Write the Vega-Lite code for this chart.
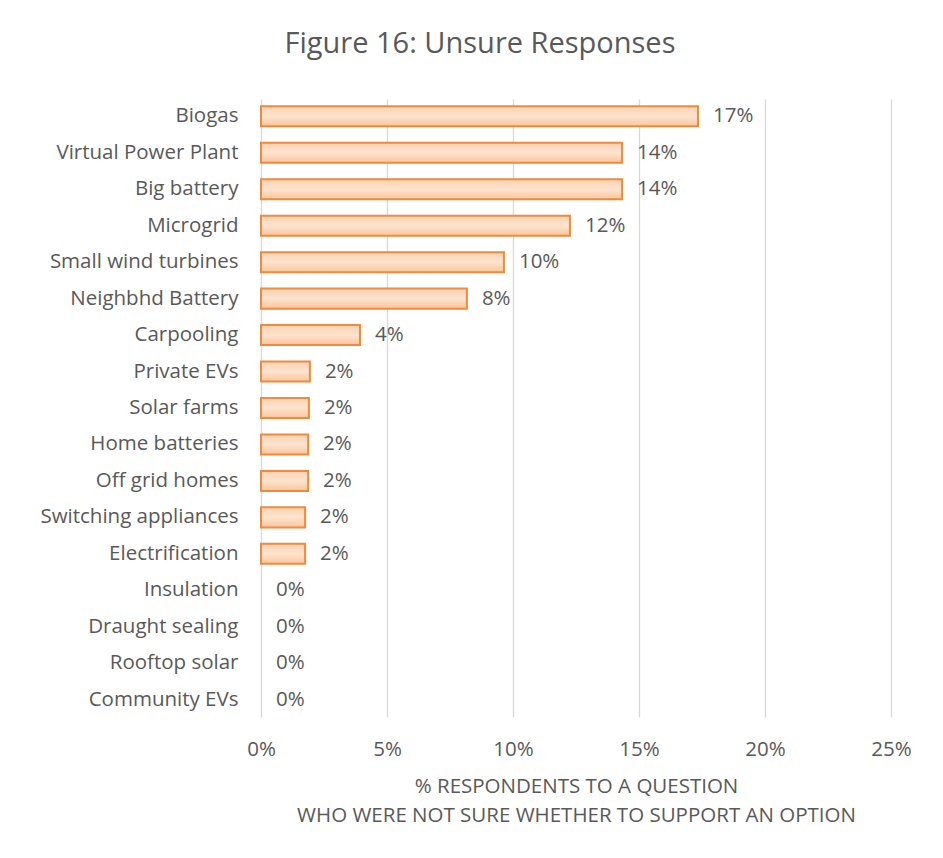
{
  "$schema": "https://vega.github.io/schema/vega-lite/v6.json",
  "width": 630,
  "height": 618,
  "autosize": "none",
  "padding": {"left": 261, "top": 99, "right": 52, "bottom": 141},
  "background": "white",
  "title": {
    "text": "Figure 16: Unsure Responses",
    "anchor": "middle",
    "dx": -96,
    "offset": 40,
    "font": "Open Sans",
    "fontSize": 29,
    "fontWeight": "normal",
    "color": "#595959"
  },
  "data": {
    "values": [
      {"option": "Biogas", "share": 0.1734},
      {"option": "Virtual Power Plant", "share": 0.1433},
      {"option": "Big battery", "share": 0.1433},
      {"option": "Microgrid", "share": 0.1226},
      {"option": "Small wind turbines", "share": 0.0964},
      {"option": "Neighbhd Battery", "share": 0.0817},
      {"option": "Carpooling", "share": 0.0393},
      {"option": "Private EVs", "share": 0.0194},
      {"option": "Solar farms", "share": 0.019},
      {"option": "Home batteries", "share": 0.0187},
      {"option": "Off grid homes", "share": 0.0187},
      {"option": "Switching appliances", "share": 0.0175},
      {"option": "Electrification", "share": 0.0175},
      {"option": "Insulation", "share": 0},
      {"option": "Draught sealing", "share": 0},
      {"option": "Rooftop solar", "share": 0},
      {"option": "Community EVs", "share": 0}
    ]
  },
  "encoding": {
    "y": {
      "field": "option",
      "type": "nominal",
      "sort": null,
      "scale": {"paddingInner": 0.45, "paddingOuter": 0.2},
      "axis": {
        "title": null,
        "domain": false,
        "ticks": false,
        "grid": false,
        "labelPadding": 23,
        "labelLimit": 300,
        "labelFont": "Open Sans",
        "labelFontSize": 20.5,
        "labelColor": "#595959"
      }
    },
    "x": {
      "field": "share",
      "type": "quantitative",
      "scale": {"domain": [0, 0.25]},
      "axis": {
        "values": [0, 0.05, 0.1, 0.15, 0.2, 0.25],
        "format": ".0%",
        "domain": false,
        "ticks": false,
        "grid": true,
        "gridColor": "#d9d9d9",
        "gridWidth": 1.3,
        "labelFlush": false,
        "labelPadding": 22,
        "labelFont": "Open Sans",
        "labelFontSize": 20.5,
        "labelColor": "#595959",
        "title": ["% RESPONDENTS TO A QUESTION", "WHO WERE NOT SURE WHETHER TO SUPPORT AN OPTION"],
        "titleFont": "Open Sans",
        "titleFontSize": 20.5,
        "titleFontWeight": "normal",
        "titleColor": "#595959",
        "titleLineHeight": 29,
        "titlePadding": 17
      }
    }
  },
  "layer": [
    {
      "transform": [{"filter": "datum.share > 0"}],
      "mark": {
        "type": "bar",
        "stroke": "#f08a3c",
        "strokeWidth": 2,
        "color": {
          "gradient": "linear",
          "x1": 0, "y1": 0, "x2": 0, "y2": 1,
          "stops": [
            {"offset": 0, "color": "#fbd2b2"},
            {"offset": 0.5, "color": "#fde3cf"},
            {"offset": 1, "color": "#fbc59a"}
          ]
        }
      }
    },
    {
      "mark": {
        "type": "text",
        "align": "left",
        "baseline": "middle",
        "dx": 15,
        "font": "Open Sans",
        "fontSize": 20.5,
        "color": "#595959"
      },
      "encoding": {
        "text": {"field": "share", "type": "quantitative", "format": ".0%"}
      }
    }
  ],
  "config": {
    "view": {"stroke": null}
  }
}
